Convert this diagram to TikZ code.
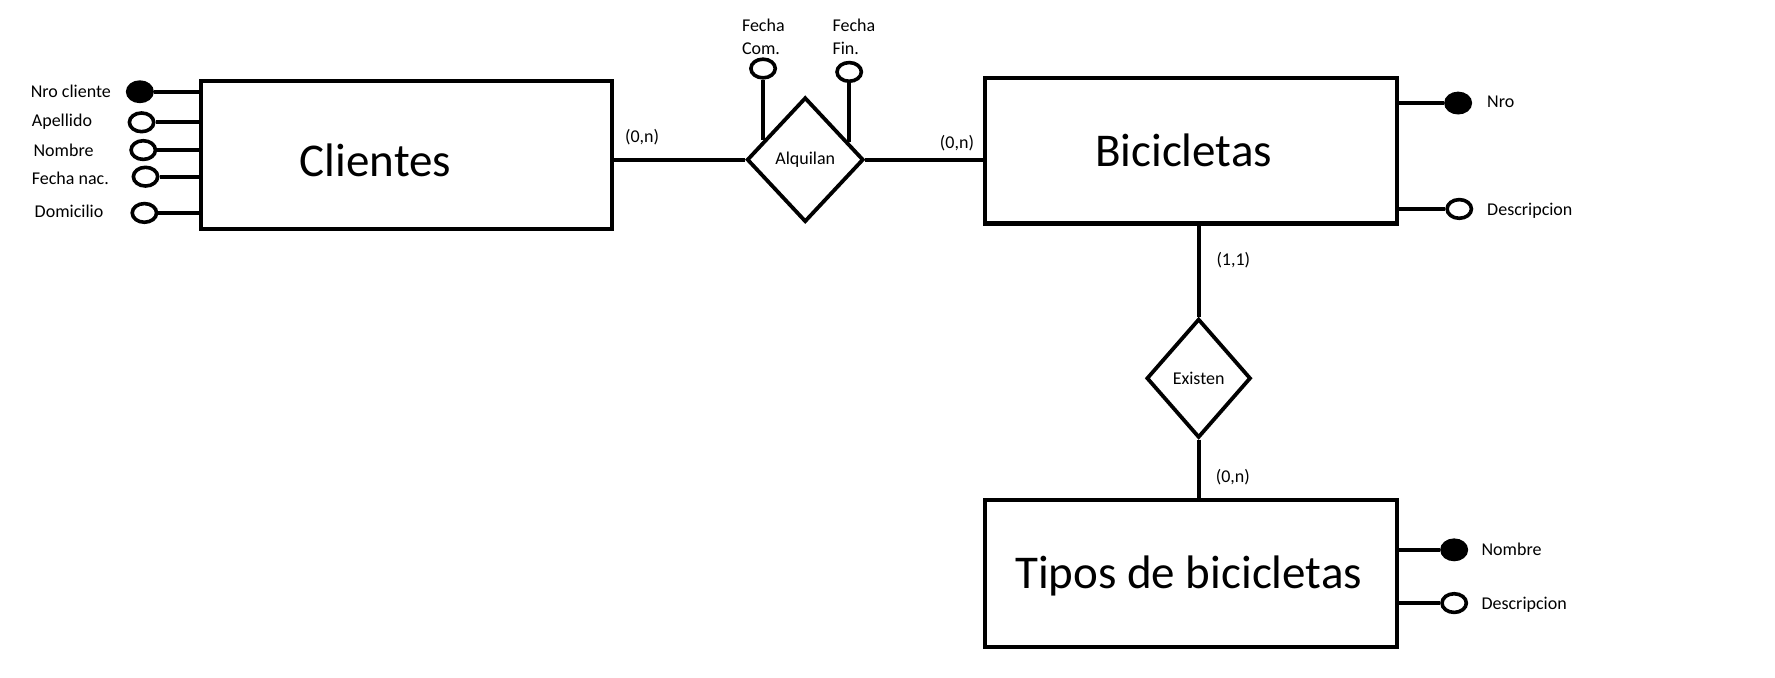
\documentclass[tikz,border=0pt]{standalone}
\usepackage{fontspec}
\setmainfont{Carlito}
\usetikzlibrary{shapes.geometric,calc}
\def\ux{1.1325pt}
\tikzset{
  entity/.style={draw, line width=4.3pt, rectangle, inner sep=0pt},
  bigtext/.style={font=\fontsize{47}{50}\selectfont, inner sep=0pt},
  rel/.style={draw, line width=3.8pt, diamond, inner sep=0pt, font=\fontsize{18}{21}\selectfont},
  small/.style={font=\fontsize{18}{23.8}\selectfont, inner sep=0pt, text height=1.5ex, text depth=.25ex},
  keyattr/.style={draw, fill=black, ellipse, line width=3.6pt, inner sep=0pt, minimum width={21.5*\ux}, minimum height={17*\ux}},
  attr/.style={draw, fill=white, ellipse, line width=3.6pt, inner sep=0pt, minimum width={21.5*\ux}, minimum height={16.5*\ux}},
  conn/.style={line width=4.3pt},
  aconn/.style={line width=4.1pt}
}
\begin{document}
\begin{tikzpicture}[x=\ux, y=-\ux]
\useasboundingbox (0,0) rectangle (1567.3,597.8);
% entities
\node[entity, minimum width={362.5*\ux}, minimum height={130.5*\ux}] (cli) at (359,137) {};
\node[bigtext] (clit) at (331.5,141.4) {Clientes};
\node[entity, minimum width={363.5*\ux}, minimum height={128.5*\ux}] (bic) at (1051.5,133) {};
\node[bigtext] (bict) at (1045,132.5) {Bicicletas};
\node[entity, minimum width={363.5*\ux}, minimum height={129.6*\ux}] (tip) at (1051.5,506.2) {};
\node[bigtext] (tipt) at (1049.5,509) {Tipos de bicicletas};
% relationships
\node[rel, minimum width={103*\ux}, minimum height={110*\ux}] (alq) at (711,141) {Alquilan};
\node[rel, minimum width={92*\ux}, minimum height={105*\ux}] (ex) at (1058.4,334) {Existen};
% connectors
\draw[conn] (alq.west -| cli.east) -- (alq.west);
\draw[conn] (alq.east) -- (alq.east -| bic.west);
\draw[conn] (ex.north |- bic.south) -- (ex.north);
\draw[conn] (ex.south) -- (ex.south |- tip.north);
% cardinalities
\node[small] (c1) at (567,123.5) {(0,n)};
\node[small] (c2) at (845,128.5) {(0,n)};
\node[small] (c3) at (1089,232) {(1,1)};
\node[small] (c4) at (1088.6,423) {(0,n)};
% Clientes attributes
\node[keyattr] (a1) at (123.5,81) {};
\node[attr] (a2) at (125,108) {};
\node[attr] (a3) at (126.5,132.5) {};
\node[attr] (a4) at (128.5,156) {};
\node[attr] (a5) at (127.5,188) {};
\foreach \a in {a1,a2,a3,a4,a5} \draw[aconn] (\a.east) -- (\a.east -| cli.west);
\node[small, anchor=west] (t1) at (27,83.5) {Nro cliente};
\node[small, anchor=west] (t2) at (28,109.5) {Apellido};
\node[small, anchor=west] (t3) at (29.5,135.5) {Nombre};
\node[small, anchor=west] (t4) at (28,160.5) {Fecha nac.};
\node[small, anchor=west] (t5) at (30.5,189.5) {Domicilio};
% Alquilan attributes
\coordinate (fcp) at ($(alq.west)!0.3!(alq.north)$);
\coordinate (ffp) at ($(alq.east)!0.27!(alq.north)$);
\node[attr] (fc) at (fcp |- 0,60.5) {};
\node[attr] (ff) at (ffp |- 0,63.5) {};
\draw[aconn] (fc.south) -- (fcp);
\draw[aconn] (ff.south) -- (ffp);
\node[font=\fontsize{18}{23.8}\selectfont, inner sep=0pt, align=left, anchor=west] (fct) at (655,32.5) {Fecha\\Com.};
\node[font=\fontsize{18}{23.8}\selectfont, inner sep=0pt, align=left, anchor=west] (fft) at (735,32.5) {Fecha\\Fin.};
% Bicicletas attributes
\node[keyattr] (b1) at (1287.5,91) {};
\node[attr] (b2) at (1288.5,184.5) {};
\draw[aconn] (b1.west -| bic.east) -- (b1.west);
\draw[aconn] (b2.west -| bic.east) -- (b2.west);
\node[small, anchor=west] (bt1) at (1313,92.5) {Nro};
\node[small, anchor=west] (bt2) at (1313,187.5) {Descripcion};
% Tipos attributes
\node[keyattr] (p1) at (1284,485.5) {};
\node[attr] (p2) at (1284,532.5) {};
\draw[aconn] (p1.west -| tip.east) -- (p1.west);
\draw[aconn] (p2.west -| tip.east) -- (p2.west);
\node[small, anchor=west] (pt1) at (1308,487.5) {Nombre};
\node[small, anchor=west] (pt2) at (1308,535.5) {Descripcion};
\end{tikzpicture}
\end{document}
